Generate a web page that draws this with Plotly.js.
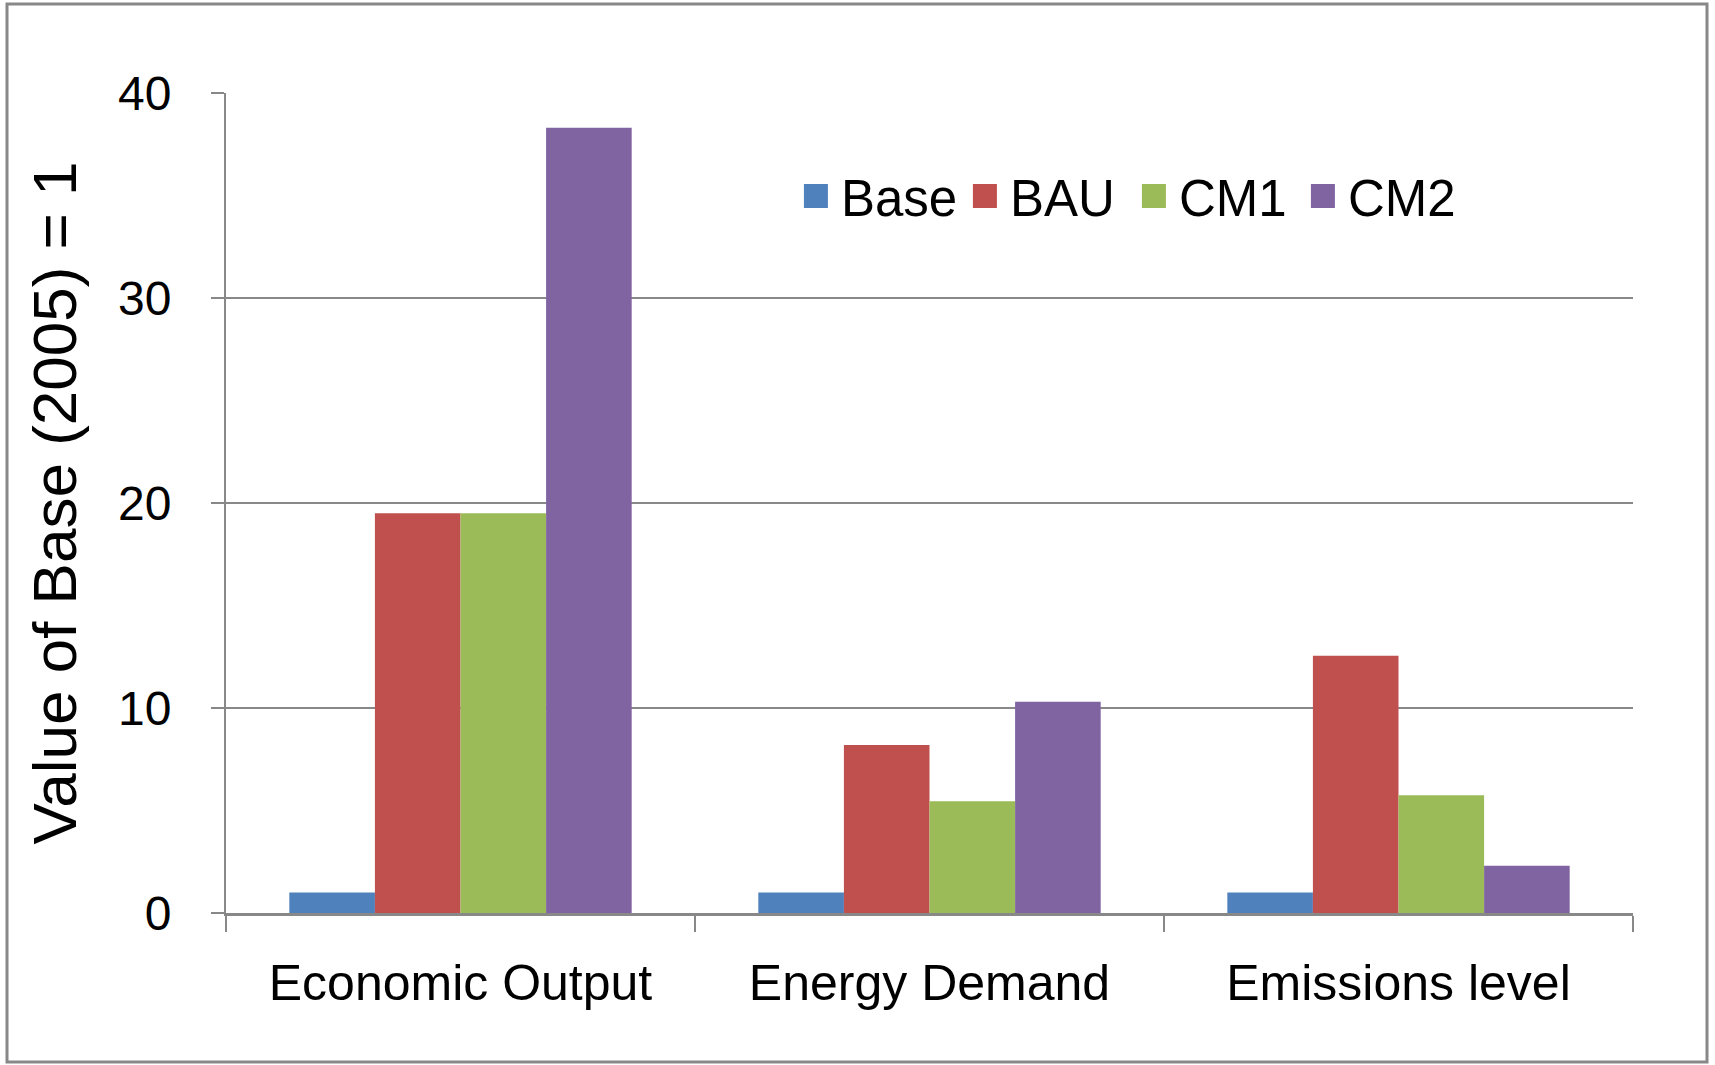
<!DOCTYPE html>
<html>
<head>
<meta charset="utf-8">
<script src="https://cdn.plot.ly/plotly-3.0.1.min.js"></script>
<style>html,body{margin:0;padding:0;background:#fff}#chart{width:1715px;height:1065px}</style>
</head>
<body>
<div id="chart"></div>
<script>
const categories = ["Economic Output", "Energy Demand", "Emissions level"];
const seriesNames = ["Base", "BAU", "CM1", "CM2"];
const baseValues = [1, 1, 1];
const bauValues = [19.5, 8.2, 12.55];
const cm1Values = [19.5, 5.45, 5.75];
const cm2Values = [38.3, 10.3, 2.3];
const yTickValues = [0, 10, 20, 30, 40];
const yTitle = "Value of Base (2005) = 1";

const colors = ["#4F81BD", "#C0504D", "#9BBB59", "#8064A2"];
const allValues = [baseValues, bauValues, cm1Values, cm2Values];

const traces = seriesNames.map((name, i) => ({
  type: "bar",
  name: name,
  x: categories,
  y: allValues[i],
  marker: {color: colors[i], line: {width: 0}},
  hoverinfo: "x+y+name"
}));

const font = {family: "Liberation Sans, Arial, sans-serif", color: "#000"};

const layout = {
  width: 1715,
  height: 1065,
  margin: {l: 226, r: 82, t: 93, b: 152},
  paper_bgcolor: "#fff",
  plot_bgcolor: "#fff",
  barmode: "group",
  bargap: 0.27,
  bargroupgap: 0,
  font: Object.assign({size: 48}, font),
  showlegend: true,
  legend: {
    orientation: "h",
    x: 0.4015, y: 0.874,
    xanchor: "left", yanchor: "middle",
    font: Object.assign({size: 51}, font),
    itemwidth: 40,
    entrywidth: 114,
    entrywidthmode: "pixels",
    bgcolor: "rgba(0,0,0,0)"
  },
  xaxis: {
    type: "category",
    showline: true,
    linecolor: "#888",
    linewidth: 3,
    ticks: "outside",
    tickson: "boundaries",
    ticklen: 16,
    tickwidth: 2,
    tickcolor: "#888",
    showgrid: false,
    ticklabelstandoff: 24,
    tickfont: Object.assign({size: 50}, font),
    automargin: false,
    fixedrange: true
  },
  yaxis: {
    range: [0, 40],
    tickvals: yTickValues,
    ticktext: yTickValues.map(String),
    showline: true,
    linecolor: "#888",
    linewidth: 2,
    ticks: "outside",
    ticklen: 13,
    tickwidth: 2,
    tickcolor: "#888",
    showgrid: true,
    gridcolor: "#888",
    gridwidth: 2,
    zeroline: false,
    ticklabelstandoff: 30,
    tickfont: Object.assign({size: 48}, font),
    title: {text: yTitle, font: Object.assign({size: 62}, font), standoff: 21},
    automargin: false,
    fixedrange: true
  },
  shapes: [{
    type: "rect",
    xref: "paper", yref: "paper",
    x0: -219/1407, x1: 1707/1407 - 226/1407,
    y0: -149/820, y1: 1 + 89/820,
    line: {color: "#888", width: 3},
    fillcolor: "rgba(0,0,0,0)",
    layer: "below"
  }]
};

Plotly.newPlot("chart", traces, layout, {displayModeBar: false}).then(gd => {
  gd.querySelectorAll(".legend .legendpoints path").forEach(p => {
    const t = p.getAttribute("transform") || "";
    p.setAttribute("transform", (t + " scale(2)").trim());
    p.style.strokeWidth = "0";
  });
});
</script>
</body>
</html>
